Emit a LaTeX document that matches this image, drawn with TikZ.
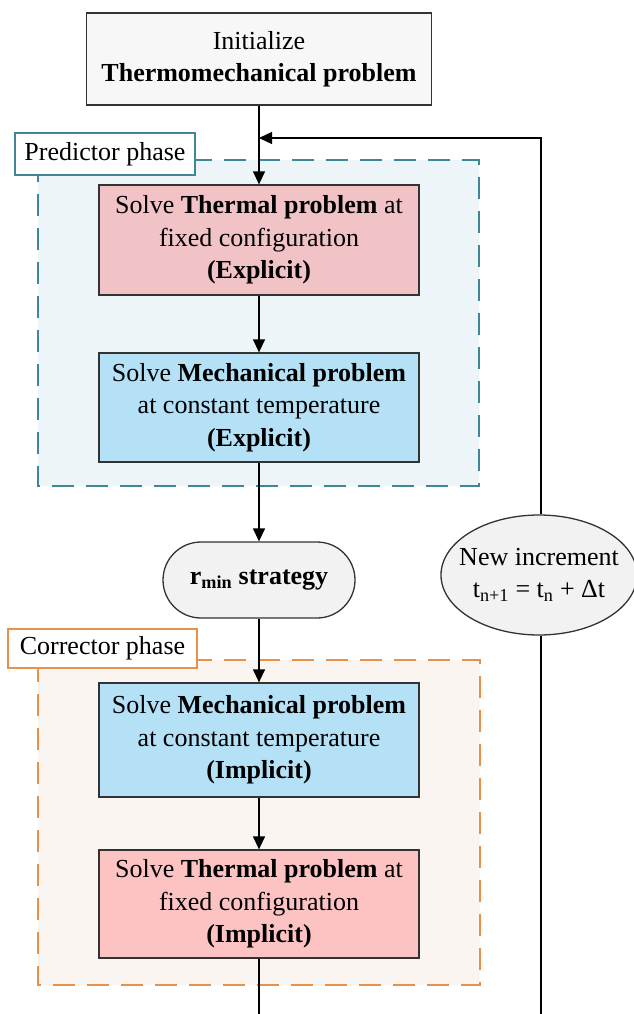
\documentclass[tikz,border=0pt]{standalone}
\usepackage{fontspec}
\setmainfont{Liberation Serif}
\usepackage{xcolor}
\usetikzlibrary{positioning,arrows.meta,shapes.geometric}

\definecolor{predfill}{HTML}{EDF5F9}
\definecolor{preddash}{HTML}{3E8797}
\definecolor{corrfill}{HTML}{FBF5F1}
\definecolor{corrdash}{HTML}{E8914A}
\definecolor{thermA}{HTML}{F2C3C6}
\definecolor{thermB}{HTML}{FCC3C2}
\definecolor{mechfill}{HTML}{B4E1F6}
\definecolor{greyfill}{HTML}{F2F2F2}

\begin{document}
\begin{tikzpicture}[
    x=1pt, y=-1pt,
    >={Triangle[length=13pt,width=12pt]},
    font=\fontsize{26}{32.5}\selectfont,
    line width=1.3pt,
    blk/.style={draw=black!80, align=center, inner sep=0pt},
    therm/.style={blk, minimum width=320pt},
    mech/.style={blk, fill=mechfill, minimum width=320pt},
    phase/.style={line width=1.8pt, dash pattern=on 22pt off 12pt},
    tag/.style={draw, fill=white, line width=1.4pt, inner sep=0pt, align=left},
  ]
    \useasboundingbox (0,0) rectangle (633,1014);

    % phase regions
    \draw[phase, draw=preddash, fill=predfill] (38,160) rectangle (479,486);
    \node[tag, draw=preddash, minimum width=180pt, minimum height=42pt] (predtag) at (105,154) {Predictor phase};
    \draw[phase, draw=corrdash, fill=corrfill] (38,660) rectangle (480,985);
    \node[tag, draw=corrdash, minimum width=189pt, minimum height=39pt] (corrtag) at (102.5,648.5) {Corrector phase};

    % main chain
    \node[blk, fill=greyfill!60, minimum width=345pt, minimum height=92pt] (init) at (259,59)
      {Initialize\\\textbf{Thermomechanical problem}};
    \node[therm, fill=thermA, minimum height=110pt] (th1) at (259,240)
      {Solve \textbf{Thermal problem} at\\fixed configuration\\\textbf{(Explicit)}};
    \node[mech, minimum height=109pt] (me1) at (259,407.5)
      {Solve \textbf{Mechanical problem}\\at constant temperature\\\textbf{(Explicit)}};
    \node[blk, fill=greyfill, rounded corners=38pt, minimum width=192pt, minimum height=76pt] (rmin) at (259,580)
      {\textbf{r\textsubscript{min} strategy}};
    \node[mech, minimum height=114pt] (me2) at (259,740)
      {Solve \textbf{Mechanical problem}\\at constant temperature\\\textbf{(Implicit)}};
    \node[therm, fill=thermB, minimum height=108pt] (th2) at (259,904)
      {Solve \textbf{Thermal problem} at\\fixed configuration\\\textbf{(Implicit)}};

    % time increment loop
    \node[ellipse, draw=black!80, fill=greyfill, inner sep=0pt, minimum width=196pt, minimum height=120pt] (incr) at (539,575) {};
    \node[align=center, inner sep=0pt] (incrtxt) at (incr) {New increment\\t\textsubscript{n+1} = t\textsubscript{n} + Δt};
    \coordinate (fbtop) at (541,138);
    \coordinate (fbin)  at (259,138);
    \coordinate (endL)  at (259,1014);
    \coordinate (endR)  at (541,1014);

    \draw[->] (init) -- (th1);
    \draw[->] (th1) -- (me1);
    \draw[->] (me1) -- (rmin);
    \draw[->] (rmin) -- (me2);
    \draw[->] (me2) -- (th2);
    \draw (th2) -- (endL);
    \draw (incr.south -| endR) -- (endR);
    \draw[->] (incr.north -| fbtop) -- (fbtop) -- (fbin);
\end{tikzpicture}
\end{document}
